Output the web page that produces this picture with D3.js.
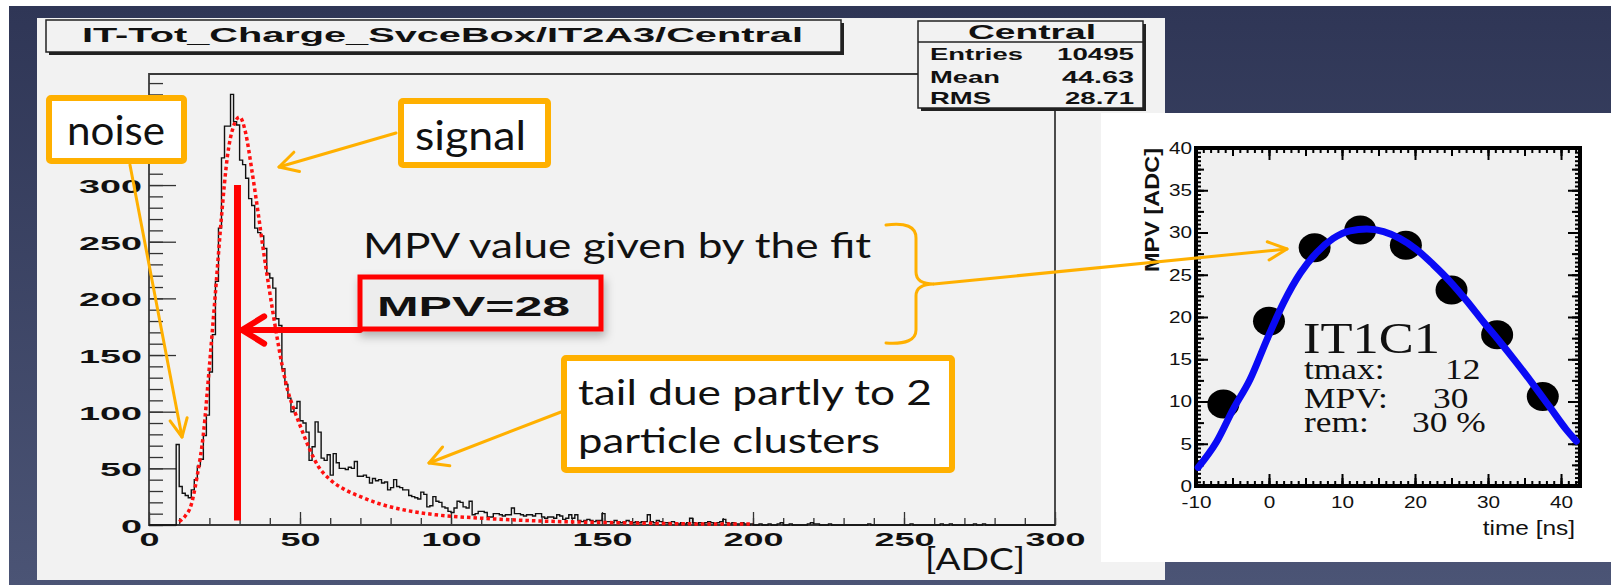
<!DOCTYPE html>
<html>
<head>
<meta charset="utf-8">
<script src="https://cdn.jsdelivr.net/npm/d3@7"></script>
<style>
  body { margin: 0; overflow: hidden; background: #fff; }
  svg { display: block; }
</style>
</head>
<body>
<svg id="chart" width="1611" height="585"></svg>
<script>
// ---- histogram: counts per 1-ADC bin, 0..299
const histCounts = [
  0, 0, 0, 0, 0, 0, 0, 0, 0, 71, 34, 28, 26, 24, 31, 40, 52, 58, 79, 97,
  135, 168, 215, 262, 324, 352, 352, 380, 356, 353, 322, 318, 306, 288, 282, 262, 258, 255, 244, 222,
  218, 209, 182, 176, 138, 124, 112, 100, 103, 109, 92, 90, 82, 57, 69, 91, 82, 59, 57, 62,
  44, 63, 55, 50, 50, 49, 51, 50, 56, 43, 43, 44, 42, 37, 41, 39, 40, 37, 38, 31,
  33, 40, 34, 33, 31, 31, 26, 25, 24, 23, 29, 27, 16, 17, 25, 21, 20, 16, 15, 12,
  11, 15, 21, 20, 16, 15, 21, 9, 10, 12, 12, 11, 7, 7, 10, 10, 9, 8, 9, 9,
  15, 10, 10, 9, 8, 9, 9, 8, 10, 10, 7, 6, 7, 7, 6, 9, 8, 5, 6, 9,
  6, 9, 4, 3, 4, 5, 4, 3, 4, 4, 10, 3, 3, 2, 4, 3, 2, 3, 4, 3,
  2, 3, 2, 3, 3, 9, 3, 2, 4, 3, 2, 2, 1, 3, 2, 1, 2, 1, 2, 6,
  2, 1, 2, 1, 2, 3, 2, 1, 2, 3, 5, 2, 1, 2, 1, 1, 2, 1, 0, 1,
  0, 0, 1, 0, 0, 1, 0, 0, 1, 2, 0, 0, 1, 0, 0, 0, 0, 0, 1, 2,
  1, 1, 0, 0, 0, 1, 0, 0, 0, 0, 0, 0, 0, 0, 0, 0, 0, 0, 1, 0,
  0, 0, 0, 0, 0, 0, 0, 0, 0, 0, 0, 0, 1, 0, 0, 0, 0, 0, 0, 0,
  0, 0, 1, 0, 0, 1, 0, 0, 0, 0, 0, 0, 0, 1, 0, 0, 1, 0, 0, 0,
  0, 0, 0, 0, 0, 0, 0, 0, 0, 0, 0, 0, 0, 0, 0, 0, 0, 0, 0, 0
];

// red dotted fit curve
const fitADC    = [10, 12, 14, 16, 18, 20, 22, 24, 26, 28, 30, 32, 34, 36, 38, 40, 42, 44, 46, 48,
                   50, 53, 56, 60, 65, 70, 76, 85, 95, 110, 130, 155, 180, 200];
const fitCounts = [3, 8, 18, 44, 80, 140, 205, 272, 326, 352, 360, 346, 314, 278, 240, 205, 172, 142, 118, 102,
                   88, 68, 52, 40, 31, 25, 19, 13, 9, 6, 3.5, 2, 1, 0.8];

const mpvLine = 29.3;        // red marker drawn on the histogram
const mpvLineTop = 300;

const histXTicks = [0, 50, 100, 150, 200, 250, 300];
const histYTicks = [0, 50, 100, 150, 200, 250, 300, 350];
const histYLabels = [0, 50, 100, 150, 200, 250, 300];   // 350 sits under the "noise" box

const histTitle = "IT-Tot_Charge_SvceBox/IT2A3/Central";
const statsName = "Central";
const statsLabels = ["Entries", "Mean", "RMS"];
const statsValues = ["10495", "44.63", "28.71"];

// ---- right plot: MPV vs time
const timeNs  = [-6.25, 0, 6.25, 12.5, 18.75, 25, 31.25, 37.5];
const mpvADC  = [9.7, 19.5, 28.2, 30.3, 28.5, 23.2, 17.9, 10.6];
const fitTime = [-9.7, -7.2, -4.9, -2.6, -0.3, 2.0, 4.3, 6.5, 8.8, 11.1, 13.4, 15.7, 17.9, 20.2,
                 22.5, 24.8, 27.1, 29.3, 31.6, 33.9, 36.2, 38.5, 40.7, 42.1];
const fitMPV  = [2.2, 5.2, 9.1, 12.6, 17.3, 21.7, 25.2, 27.6, 29.3, 30.2, 30.4, 30.1, 29.3, 28.0,
                 26.2, 24.2, 21.9, 19.5, 17.1, 14.6, 12.0, 9.3, 6.7, 5.3];
const timeTicks = [-10, 0, 10, 20, 30, 40];
const mpvTicks  = [0, 5, 10, 15, 20, 25, 30, 35, 40];
const fitInfo = [["tmax:", "12"], ["MPV:", "30"], ["rem:", "30 %"]];

const W = 1611, H = 585;
const ORANGE = "#ffb000";
const ROOTFONT = "'Liberation Sans', Arial, sans-serif";
const SLIDEFONT = "Lato, 'Open Sans', sans-serif";
const SERIF = "'Liberation Serif', 'Times New Roman', serif";

const svg = d3.select("#chart");
const defs = svg.append("defs");

const grad = defs.append("linearGradient").attr("id", "navy")
  .attr("x1", 0).attr("y1", 0).attr("x2", 0).attr("y2", 1);
grad.append("stop").attr("offset", "0%").attr("stop-color", "#2f3656");
grad.append("stop").attr("offset", "100%").attr("stop-color", "#4b5475");

const shadow = defs.append("filter").attr("id", "shadow")
  .attr("x", "-20%").attr("y", "-40%").attr("width", "140%").attr("height", "200%");
shadow.append("feDropShadow").attr("dx", 2).attr("dy", 5).attr("stdDeviation", 5)
  .attr("flood-color", "#000").attr("flood-opacity", 0.28);

function fitWidth(sel, w) {
  sel.attr("textLength", w).attr("lengthAdjust", "spacingAndGlyphs");
}
function stretch(sel, k) {
  sel.each(function() {
    const w = this.getComputedTextLength();
    d3.select(this).attr("textLength", w * k).attr("lengthAdjust", "spacingAndGlyphs");
  });
}
function arrow(g, x1, y1, x2, y2, color, width, head, spread) {
  const a = Math.atan2(y2 - y1, x2 - x1);
  g.append("line").attr("x1", x1).attr("y1", y1).attr("x2", x2).attr("y2", y2)
    .attr("stroke", color).attr("stroke-width", width).attr("stroke-linecap", "round");
  const p1 = [x2 - head * Math.cos(a - spread), y2 - head * Math.sin(a - spread)];
  const p2 = [x2 - head * Math.cos(a + spread), y2 - head * Math.sin(a + spread)];
  g.append("polyline").attr("points", [p1, [x2, y2], p2].map(p => p.join(",")).join(" "))
    .attr("fill", "none").attr("stroke", color).attr("stroke-width", width)
    .attr("stroke-linecap", "round").attr("stroke-linejoin", "round");
}

// background
svg.append("rect").attr("width", W).attr("height", H).attr("fill", "#fff");
svg.append("rect").attr("x", 9).attr("y", 6).attr("width", W - 9).attr("height", H - 6).attr("fill", "url(#navy)");

// ================= histogram panel =================
svg.append("rect").attr("x", 37).attr("y", 18).attr("width", 1128).attr("height", 562).attr("fill", "#f2f2f2");

const x = d3.scaleLinear().domain([0, 300]).range([149, 1055]);
const y = d3.scaleLinear().domain([0, 398]).range([525, 74]);

const hist = svg.append("g");

// minor ticks
hist.append("g").attr("transform", "translate(0,525)")
  .call(d3.axisBottom(x).tickValues(d3.range(0, 301, 10)).tickSize(-7).tickFormat(""))
  .call(g => g.select(".domain").remove());
hist.append("g").attr("transform", "translate(149,0)")
  .call(d3.axisLeft(y).tickValues(d3.range(0, 391, 10)).tickSize(-14).tickFormat(""))
  .call(g => g.select(".domain").remove());

// major ticks + labels
const xAx = hist.append("g").attr("transform", "translate(0,525)")
  .call(d3.axisBottom(x).tickValues(histXTicks).tickSize(-13).tickPadding(9).tickFormat(d => String(d)));
const yAx = hist.append("g").attr("transform", "translate(149,0)")
  .call(d3.axisLeft(y).tickValues(histYTicks).tickSize(-27).tickPadding(7)
    .tickFormat(d => histYLabels.includes(d) ? String(d) : ""));
[xAx, yAx].forEach(ax => {
  ax.select(".domain").remove();
  ax.selectAll("text").attr("font-family", ROOTFONT).attr("font-weight", "bold")
    .attr("font-size", 17.5).attr("fill", "#111");
});
yAx.selectAll("text").attr("dy", "0.42em");
yAx.selectAll("text").filter(d => !histYLabels.includes(d)).remove();
hist.selectAll(".tick line").attr("stroke", "#333").attr("stroke-width", 1.3);
xAx.selectAll("text").each(function(d) { fitWidth(d3.select(this), String(d).length * 20); });
yAx.selectAll("text").each(function(d) { fitWidth(d3.select(this), String(d).length * 21); });

// frame
hist.append("path")
  .attr("d", "M918,74 H149 V525 H1055 V110")
  .attr("fill", "none").attr("stroke", "#3a3a3a").attr("stroke-width", 1.8);

// histogram outline
const histPts = histCounts.map((c, i) => [i, c]);
histPts.push([300, histCounts[299]]);
hist.append("path")
  .datum(histPts)
  .attr("fill", "none").attr("stroke", "#111").attr("stroke-width", 1.4)
  .attr("d", d3.line().x(d => x(d[0])).y(d => y(d[1])).curve(d3.curveStepAfter));

// fit curve
hist.append("path")
  .datum(fitADC.map((a, i) => [a, fitCounts[i]]))
  .attr("fill", "none").attr("stroke", "#ff1010").attr("stroke-width", 3.5)
  .attr("stroke-dasharray", "3.5 3")
  .attr("d", d3.line().x(d => x(d[0])).y(d => y(d[1])).curve(d3.curveMonotoneX));

// title box
svg.append("rect").attr("x", 49).attr("y", 23).attr("width", 795).attr("height", 32).attr("fill", "#222");
svg.append("rect").attr("x", 46).attr("y", 20).attr("width", 795).attr("height", 32)
  .attr("fill", "#f2f2f2").attr("stroke", "#222").attr("stroke-width", 1.5);
svg.append("text").attr("x", 82).attr("y", 42).text(histTitle)
  .attr("font-family", ROOTFONT).attr("font-weight", "bold").attr("font-size", 21).attr("fill", "#111")
  .call(fitWidth, 721);

// stats box
svg.append("rect").attr("x", 921).attr("y", 24).attr("width", 225).attr("height", 87).attr("fill", "#222");
svg.append("rect").attr("x", 918).attr("y", 21).attr("width", 225).attr("height", 87)
  .attr("fill", "#f2f2f2").attr("stroke", "#222").attr("stroke-width", 1.5);
svg.append("line").attr("x1", 918).attr("x2", 1143).attr("y1", 42).attr("y2", 42)
  .attr("stroke", "#222").attr("stroke-width", 1.5);
svg.append("text").attr("x", 1032).attr("y", 39).attr("text-anchor", "middle").text(statsName)
  .attr("font-family", ROOTFONT).attr("font-weight", "bold").attr("font-size", 20).attr("fill", "#111")
  .call(fitWidth, 128);
const statsRows = [60, 83, 104];
const labelW = [93, 70, 61], valueW = [77, 72, 69];
statsLabels.forEach((l, i) => {
  svg.append("text").attr("x", 930).attr("y", statsRows[i]).text(l)
    .attr("font-family", ROOTFONT).attr("font-weight", "bold").attr("font-size", 17).attr("fill", "#111")
    .call(fitWidth, labelW[i]);
  svg.append("text").attr("x", 1134).attr("y", statsRows[i]).attr("text-anchor", "end").text(statsValues[i])
    .attr("font-family", ROOTFONT).attr("font-weight", "bold").attr("font-size", 17).attr("fill", "#111")
    .call(fitWidth, valueW[i]);
});

// ================= annotations on the histogram =================
const ann = svg.append("g");

// MPV marker + arrow + box
ann.append("line").attr("x1", x(mpvLine)).attr("x2", x(mpvLine)).attr("y1", y(4)).attr("y2", y(mpvLineTop))
  .attr("stroke", "#ff0000").attr("stroke-width", 7);
ann.append("rect").attr("x", 360).attr("y", 277).attr("width", 241).attr("height", 52)
  .attr("fill", "#ededed").attr("stroke", "#ff0000").attr("stroke-width", 5).attr("filter", "url(#shadow)");
ann.append("text").attr("x", 377).attr("y", 316).text("MPV=28")
  .attr("font-family", ROOTFONT).attr("font-weight", "bold").attr("font-size", 28).attr("fill", "#111")
  .call(fitWidth, 193);
arrow(ann, 360, 330, 242, 330, "#ff0000", 6, 26, 0.55);

ann.append("text").attr("x", 363).attr("y", 258).text("MPV value given by the fit")
  .attr("font-family", SLIDEFONT).attr("font-size", 35).attr("fill", "#111")
  .call(fitWidth, 508);

// orange call-out boxes
const boxes = [
  { x: 49, y: 98, w: 135, h: 63 },
  { x: 401, y: 101, w: 147, h: 64 },
  { x: 564, y: 358, w: 388, h: 112 }
];
boxes.forEach(b => {
  ann.append("rect").attr("x", b.x).attr("y", b.y).attr("width", b.w).attr("height", b.h).attr("rx", 2)
    .attr("fill", "#fff").attr("stroke", ORANGE).attr("stroke-width", 6);
});
ann.append("text").attr("x", 67).attr("y", 145).text("noise")
  .attr("font-family", SLIDEFONT).attr("font-size", 40).attr("fill", "#111").call(fitWidth, 98);
ann.append("text").attr("x", 415).attr("y", 150).text("signal")
  .attr("font-family", SLIDEFONT).attr("font-size", 40).attr("fill", "#111").call(fitWidth, 111);
ann.append("text").attr("x", 578).attr("y", 405).text("tail due partly to 2")
  .attr("font-family", SLIDEFONT).attr("font-size", 35).attr("fill", "#111").call(fitWidth, 354);
ann.append("text").attr("x", 578).attr("y", 453).text("particle clusters")
  .attr("font-family", SLIDEFONT).attr("font-size", 35).attr("fill", "#111").call(fitWidth, 302);
ann.append("text").attr("x", 925).attr("y", 570).text("[ADC]")
  .attr("font-family", SLIDEFONT).attr("font-size", 31).attr("fill", "#111").call(fitWidth, 100);

arrow(ann, 130, 165, 182, 437, ORANGE, 3, 20, 0.45);
arrow(ann, 396, 133, 279, 167, ORANGE, 3, 21, 0.5);
arrow(ann, 561, 412, 429, 463, ORANGE, 3, 21, 0.5);

// ================= right panel: MPV vs time =================
svg.append("rect").attr("x", 1101).attr("y", 113).attr("width", 510).attr("height", 449).attr("fill", "#fff");

const tx = d3.scaleLinear().domain([-10, 42.6]).range([1196, 1580]);
const ty = d3.scaleLinear().domain([0, 40]).range([486, 148]);
const rp = svg.append("g");

rp.append("rect").attr("x", 1196).attr("y", 148).attr("width", 384).attr("height", 338).attr("fill", "#f0f0f0");

const xLevels = [[d3.range(-10, 43, 1), -5], [d3.range(-10, 43, 5), -8], [timeTicks, -12]];
const yLevels = [[d3.range(0, 40.1, 0.5), -5], [d3.range(0, 40.1, 2.5), -8], [mpvTicks, -12]];
xLevels.forEach(([vals, len]) => {
  rp.append("g").attr("transform", "translate(0,486)")
    .call(d3.axisBottom(tx).tickValues(vals).tickSize(len).tickFormat(""));
  rp.append("g").attr("transform", "translate(0,148)")
    .call(d3.axisTop(tx).tickValues(vals).tickSize(len).tickFormat(""));
});
yLevels.forEach(([vals, len]) => {
  rp.append("g").attr("transform", "translate(1196,0)")
    .call(d3.axisLeft(ty).tickValues(vals).tickSize(len).tickFormat(""));
  rp.append("g").attr("transform", "translate(1580,0)")
    .call(d3.axisRight(ty).tickValues(vals).tickSize(len).tickFormat(""));
});
rp.selectAll(".domain").remove();
rp.selectAll(".tick line").attr("stroke", "#000").attr("stroke-width", 2);

const txAx = rp.append("g").attr("transform", "translate(0,486)")
  .call(d3.axisBottom(tx).tickValues(timeTicks).tickSize(0).tickPadding(10).tickFormat(d => String(d)));
const tyAx = rp.append("g").attr("transform", "translate(1196,0)")
  .call(d3.axisLeft(ty).tickValues(mpvTicks).tickSize(0).tickPadding(4).tickFormat(d => String(d)));
[txAx, tyAx].forEach(ax => {
  ax.select(".domain").remove();
  ax.selectAll("text").attr("font-family", ROOTFONT).attr("font-size", 17).attr("fill", "#111")
    .call(stretch, 1.22);
});

rp.append("rect").attr("x", 1196).attr("y", 148).attr("width", 384).attr("height", 338)
  .attr("fill", "none").attr("stroke", "#000").attr("stroke-width", 4);

rp.append("text").attr("x", 1575).attr("y", 535).attr("text-anchor", "end").text("time [ns]")
  .attr("font-family", ROOTFONT).attr("font-size", 20).attr("fill", "#111").call(stretch, 1.22);
rp.append("text").attr("transform", "translate(1159,148) rotate(-90)").attr("text-anchor", "end")
  .text("MPV [ADC]")
  .attr("font-family", ROOTFONT).attr("font-weight", "bold").attr("font-size", 21).attr("fill", "#111")
  .call(fitWidth, 124);

// data points
rp.selectAll("ellipse.pt").data(timeNs).join("ellipse").attr("class", "pt")
  .attr("cx", d => tx(d)).attr("cy", (d, i) => ty(mpvADC[i]))
  .attr("rx", 16).attr("ry", 14.5).attr("fill", "#000");

// fitted pulse shape
rp.append("path")
  .datum(fitTime.map((t, i) => [t, fitMPV[i]]))
  .attr("fill", "none").attr("stroke", "#0a0af5").attr("stroke-width", 7).attr("stroke-linecap", "round")
  .attr("d", d3.line().x(d => tx(d[0])).y(d => ty(d[1])).curve(d3.curveMonotoneX));

// fit summary
rp.append("text").attr("x", 1303).attr("y", 353).text("IT1C1")
  .attr("font-family", SERIF).attr("font-size", 44).attr("fill", "#111").call(fitWidth, 137);
const infoY = [379, 408, 432];
const infoValX = [1445, 1433, 1412];
fitInfo.forEach(([k, v], i) => {
  rp.append("text").attr("x", 1304).attr("y", infoY[i]).text(k)
    .attr("font-family", SERIF).attr("font-size", 29).attr("fill", "#111").call(stretch, 1.22);
  rp.append("text").attr("x", infoValX[i]).attr("y", infoY[i]).text(v)
    .attr("font-family", SERIF).attr("font-size", 29).attr("fill", "#111").call(stretch, 1.22);
});

// ================= brace + long arrow (on top of everything) =================
const overlay = svg.append("g");
overlay.append("path")
  .attr("d", "M886,225 Q916,221 916,238 L916,272 Q916,284 934,284 Q916,284 916,296 L916,330 Q916,345 886,343")
  .attr("fill", "none").attr("stroke", ORANGE).attr("stroke-width", 3).attr("stroke-linecap", "round");
arrow(overlay, 934, 284, 1287, 249, ORANGE, 3, 21, 0.45);
</script>
</body>
</html>
